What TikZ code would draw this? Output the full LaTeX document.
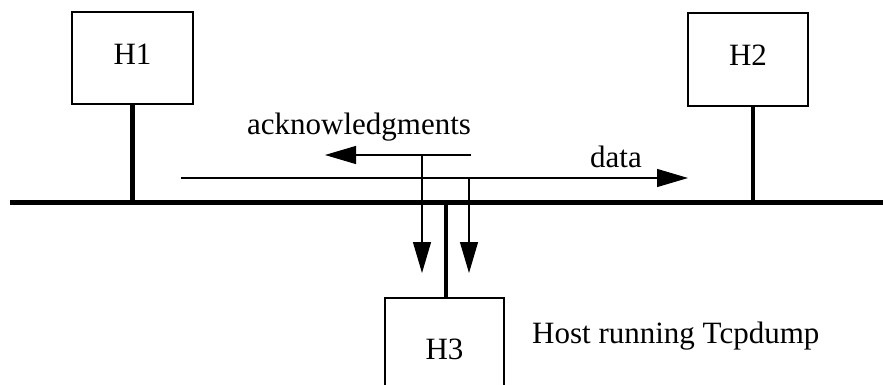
\documentclass[tikz,border=0pt]{standalone}
\usepackage{fontspec}
\setmainfont{Liberation Serif}
\usetikzlibrary{arrows.meta}
\begin{document}
\begin{tikzpicture}[x=1pt,y=-1pt,
  host/.style={draw, line width=1.4pt, inner sep=0pt, text depth=8pt,
    font=\fontsize{31}{36}\selectfont},
  lbl/.style={inner sep=0pt, anchor=base west, font=\fontsize{31}{36}\selectfont},
  stem/.style={line width=4.5pt},
  bus/.style={line width=5pt},
  flow/.style={line width=1.2pt, -{Triangle[length=31pt,width=18pt]}}]
  \useasboundingbox (0,0) rectangle (883,385);
  \clip (0,0) rectangle (883,385);

  % hosts
  \node[host, minimum width=121pt, minimum height=92pt] (h1) at (132.5,58) {H1};
  \node[host, minimum width=120pt, minimum height=93pt] (h2) at (748,59.5) {H2};
  \node[host, minimum width=119pt, minimum height=110pt] (h3) at (444.5,353) {H3};

  % the shared Ethernet cable
  \coordinate (busL) at (10,202);
  \coordinate (busR) at (883,202);
  \draw[bus] (busL) -- (busR);

  % host attachments
  \coordinate (h2tap) at (753,106);
  \coordinate (h3tap) at (446,298);
  \draw[stem] (h1.south) -- (h1.south |- busL);
  \draw[stem] (h2tap) -- (h2tap |- busL);
  \draw[stem] (h3tap |- busL) -- (h3tap);

  % traffic directions and the copies seen by H3
  \coordinate (ackR) at (471,155);
  \coordinate (ackTip) at (325,155);
  \coordinate (dataL) at (181,178);
  \coordinate (dataTip) at (688,178);
  \coordinate (tapA) at (422,273);
  \coordinate (tapB) at (469,273);
  \draw[flow] (ackR) -- (ackTip);
  \draw[flow] (dataL) -- (dataTip);
  \draw[flow] (ackR -| tapA) -- (tapA);
  \draw[flow] (dataL -| tapB) -- (tapB);

  % labels
  \node[lbl] (ack) at (247,135) {acknowledgments};
  \node[lbl] (data) at (590,167) {data};
  \node[lbl] (host) at (532,343) {Host running Tcpdump};
\end{tikzpicture}
\end{document}
